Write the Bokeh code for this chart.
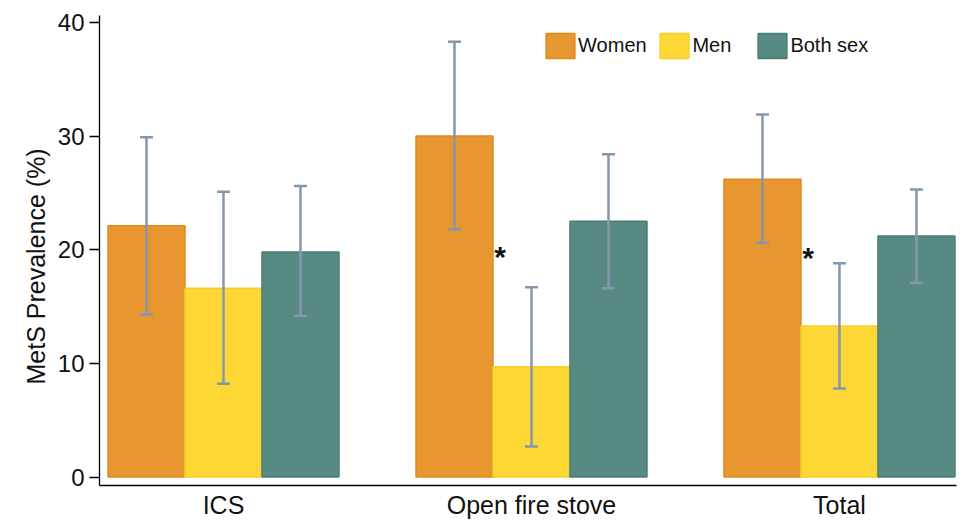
from bokeh.plotting import figure
from bokeh.models import (Range1d, FixedTicker, Whisker, TeeHead, ColumnDataSource,
                          Legend, LegendItem, Title)
from bokeh.core.properties import value
from bokeh.embed import file_html
from bokeh.resources import INLINE

# ---- data ----
categories = ["ICS", "Open fire stove", "Total"]
series = ["Women", "Men", "Both sex"]
women = [22.1, 30.0, 26.2]
women_lo = [14.3, 21.8, 20.6]
women_hi = [29.9, 38.3, 31.9]
men = [16.6, 9.7, 13.3]
men_lo = [8.2, 2.7, 7.8]
men_hi = [25.1, 16.7, 18.8]
both = [19.8, 22.5, 21.2]
both_lo = [14.2, 16.6, 17.1]
both_hi = [25.6, 28.4, 25.3]
y_title = "MetS Prevalence (%)"
# significance markers (between women and men) for these categories
sig_cats = ["Open fire stove", "Total"]
sig_y = [19.4, 19.3]

# ---- style ----
FONT = "Liberation Sans"
fills = ["#E8962F", "#FDD835", "#568A83"]
lines = ["#E08A1E", "#F5CE2A", "#4A7C74"]
err_color = "#8497AB"
offsets = [-0.25, 0.0, 0.25]
bar_w = 0.25

p = figure(width=963, height=521, output_backend="svg", toolbar_location=None,
           x_range=Range1d(-0.4026, 2.380), y_range=Range1d(-0.74, 40.6),
           min_border_left=99, min_border_right=7, min_border_top=15,
           min_border_bottom=34)
p.background_fill_color = "white"
p.border_fill_color = "white"
p.outline_line_color = None
p.xgrid.visible = False
p.ygrid.visible = False

idx = list(range(len(categories)))
vals = [women, men, both]
los = [women_lo, men_lo, both_lo]
his = [women_hi, men_hi, both_hi]

renderers = []
wx, wlo, whi = [], [], []
for k in range(3):
    xs = [i + offsets[k] for i in idx]
    src = ColumnDataSource(dict(x=xs, top=vals[k]))
    r = p.vbar(x="x", top="top", bottom=0, width=bar_w, source=src,
               fill_color=fills[k], line_color=lines[k], line_width=1.5)
    renderers.append(r)
    wx += xs
    wlo += los[k]
    whi += his[k]

wsrc = ColumnDataSource(dict(x=wx, lo=wlo, hi=whi))
wh = Whisker(source=wsrc, base="x", lower="lo", upper="hi",
             line_color=err_color, line_width=2.5, level="annotation",
             upper_head=TeeHead(size=13, line_color=err_color, line_width=2.5),
             lower_head=TeeHead(size=13, line_color=err_color, line_width=2.5))
p.add_layout(wh)

# significance stars
sx = [categories.index(c) + offsets[0] + bar_w / 2 for c in sig_cats]
p.text(x=sx, y=sig_y, text=["*"] * len(sx), x_offset=7,
       text_font=value(FONT), text_font_style="bold", text_font_size="30px",
       text_align="center", text_baseline="middle", text_color="#111111")

# axes
p.yaxis.ticker = FixedTicker(ticks=[0, 10, 20, 30, 40])
p.yaxis.major_tick_out = 10
p.yaxis.major_tick_in = 0
p.yaxis.minor_tick_out = 0
p.yaxis.minor_tick_in = 0
p.yaxis.major_tick_line_width = 1.3
p.yaxis.axis_line_width = 1.3
p.yaxis.major_label_text_font = FONT
p.yaxis.major_label_text_font_size = "24px"
p.yaxis.major_label_text_color = "#111111"
p.yaxis.major_label_standoff = 5

# y-axis title (set a little below the frame centre, as in the original)
p.add_layout(Title(text=y_title, align="left", offset=101,
                   text_font=FONT, text_font_size="25px",
                   text_font_style="normal", text_color="#111111",
                   standoff=10), "left")

p.xaxis.ticker = FixedTicker(ticks=idx)
p.xaxis.major_label_overrides = {i: c for i, c in enumerate(categories)}
p.xaxis.major_tick_out = 0
p.xaxis.major_tick_in = 0
p.xaxis.minor_tick_out = 0
p.xaxis.minor_tick_in = 0
p.xaxis.axis_line_width = 1.5
p.xaxis.major_label_text_font = FONT
p.xaxis.major_label_text_font_size = "25px"
p.xaxis.major_label_text_color = "#111111"
p.xaxis.major_label_standoff = 5

# legends (one per entry to reproduce uneven spacing)
leg_x = [443.1, 557.4, 655.4]
for k in range(3):
    leg = Legend(items=[LegendItem(label=series[k], renderers=[renderers[k]])],
                 location=(leg_x[k], 424.5), orientation="horizontal",
                 border_line_color=None, background_fill_alpha=0,
                 padding=0, margin=0, glyph_width=36, glyph_height=31,
                 label_standoff=0, label_height=31,
                 label_text_font=FONT, label_text_font_size="20px",
                 label_text_color="#111111")
    p.add_layout(leg)

open("out.html", "w").write(file_html(p, INLINE))
